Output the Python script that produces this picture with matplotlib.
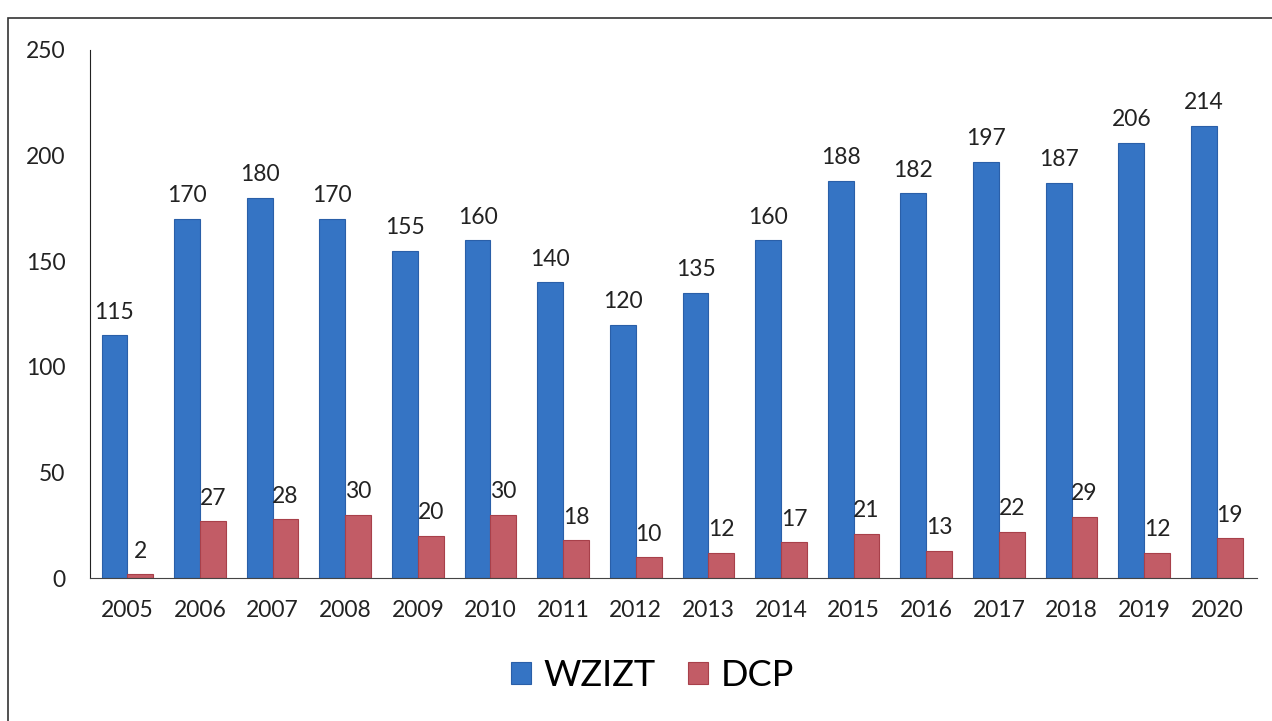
import matplotlib.pyplot as plt
import numpy as np
from matplotlib.patches import Rectangle

years = ["2005", "2006", "2007", "2008", "2009", "2010", "2011", "2012",
         "2013", "2014", "2015", "2016", "2017", "2018", "2019", "2020"]
wzizt = [115, 170, 180, 170, 155, 160, 140, 120, 135, 160, 188, 182, 197, 187, 206, 214]
dcp = [2, 27, 28, 30, 20, 30, 18, 10, 12, 17, 21, 13, 22, 29, 12, 19]

plt.rcParams["font.family"] = ["Lato", "DejaVu Sans"]

fig = plt.figure(figsize=(12.72, 7.21), dpi=100)
ax = fig.add_axes([0.071, 0.198, 0.917, 0.733])

x = np.arange(len(years))
w = 0.355
b1 = ax.bar(x - w / 2, wzizt, w, color="#3574C4", edgecolor="#2A5FA8", linewidth=0.8, label="WZIZT")
b2 = ax.bar(x + w / 2, dcp, w, color="#C25C66", edgecolor="#A8404A", linewidth=0.8, label="DCP")

for bars, vals in ((b1, wzizt), (b2, dcp)):
    for r, v in zip(bars, vals):
        ax.annotate(str(v), (r.get_x() + r.get_width() / 2, v), xytext=(0, 9),
                    textcoords="offset points", ha="center", va="bottom",
                    fontsize=16.5, color="#222222")

ax.set_ylim(0, 250)
ax.set_xlim(-0.51, 15.55)
ax.set_yticks([0, 50, 100, 150, 200, 250])
ax.set_xticks(x)
ax.set_xticklabels(years)
ax.tick_params(axis="both", length=0, labelsize=16.5, colors="#222222")
ax.tick_params(axis="y", pad=18)
ax.tick_params(axis="x", pad=16)
for s in ("top", "right"):
    ax.spines[s].set_visible(False)
ax.spines["left"].set_color("#222222")
ax.spines["bottom"].set_color("#444444")

leg = fig.legend(handles=[b1, b2], loc="center", bbox_to_anchor=(0.513, 0.063),
                 ncol=2, frameon=False, fontsize=26, handlelength=0.55,
                 handleheight=0.55, handletextpad=0.35, columnspacing=0.9)

fig.patches.append(Rectangle((8 / 1272, -0.1), 1.2, 1.1 - 18 / 721, transform=fig.transFigure,
                             fill=False, edgecolor="#333333", linewidth=1.2))

fig.savefig("out.png", dpi=100)
